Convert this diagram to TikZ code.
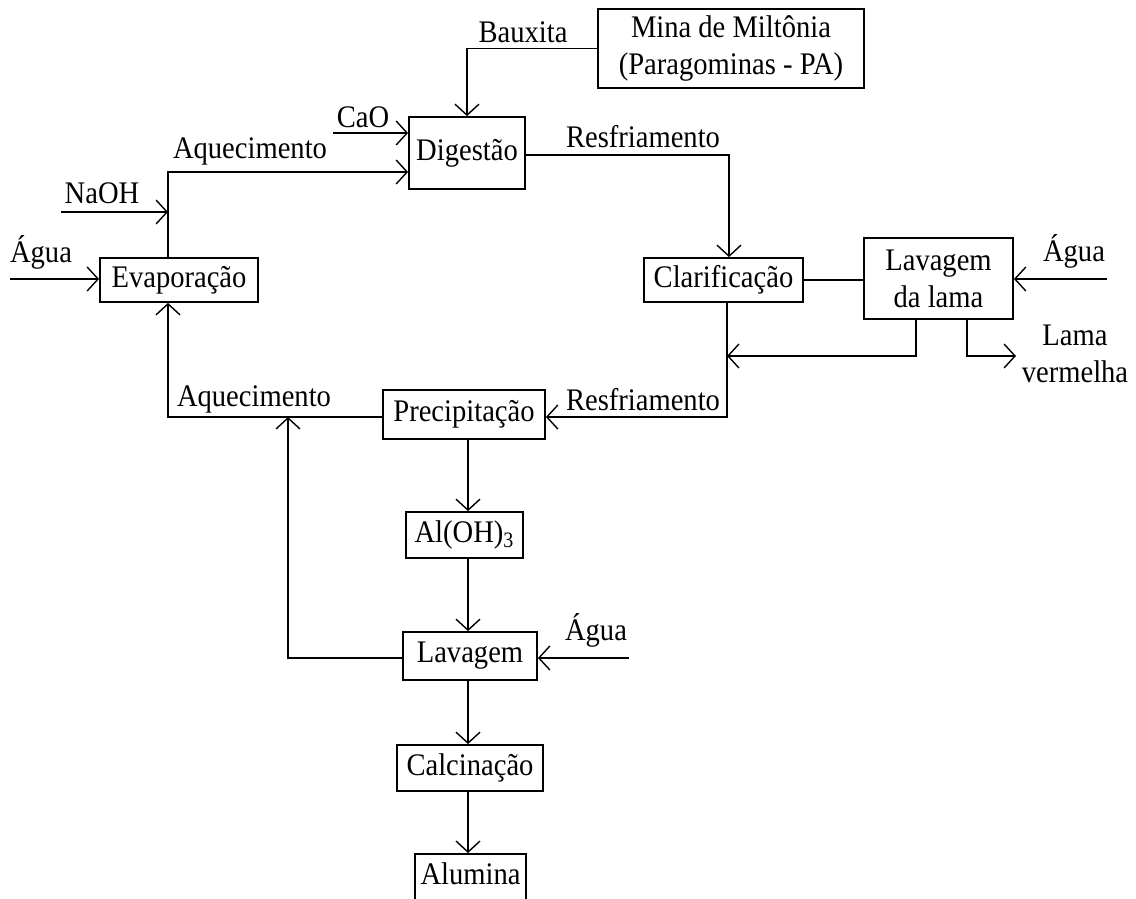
\documentclass[tikz,border=0pt]{standalone}
\usepackage{fontspec}
\setmainfont{Liberation Serif}[FakeStretch=0.91]
\usepackage{tikz}
\usetikzlibrary{arrows.meta}
\usetikzlibrary{calc}

\tikzset{
	etapa/.style={draw, line width=0.9pt, inner sep=0pt, align=center},
	rotulo/.style={inner sep=0pt, align=center},
	linha/.style={line width=0.9pt},
	fluxo/.style={line width=0.9pt, -{Straight Barb[length=5.5pt, width=12pt, line width=0.7pt]}},
}

\begin{document}
\begin{tikzpicture}[x=0.5pt, y=-0.5pt, font=\fontsize{15.7}{18.5}\selectfont]

	\useasboundingbox (0,0) rectangle (1136,899);

	% etapas do processo
	\node[etapa, minimum width=133pt, minimum height=39.5pt] (mina) at (731,48.5) {Mina de Miltônia\\(Paragominas - PA)};
	\node[etapa, minimum width=58pt, minimum height=36pt] (dig) at (467,153) {Digestão};
	\node[etapa, minimum width=79pt, minimum height=22pt] (evap) at (179,280) {Evaporação};
	\node[etapa, minimum width=79.5pt, minimum height=22pt] (clar) at (723.5,280) {Clarificação};
	\node[etapa, minimum width=74.5pt, minimum height=40.5pt] (lavl) at (938.5,278.5) {Lavagem\\da lama};
	\node[etapa, minimum width=81pt, minimum height=24.5pt] (prec) at (464,414.5) {Precipitação};
	\node[etapa, minimum width=58.5pt, minimum height=23pt] (aloh) at (464.5,535) {Al(OH)\textsubscript{3}};
	\node[etapa, minimum width=67pt, minimum height=24pt] (lav) at (470,656) {Lavagem};
	\node[etapa, minimum width=73pt, minimum height=23pt] (calc) at (470,768) {Calcinação};
	\node[etapa, anchor=north, minimum width=55.5pt, inner ysep=4.5pt, text height=11pt, text depth=10pt] (alum) at (470.5,853) {Alumina};

	% pontos de apoio das linhas
	\coordinate (cao) at (333,133);
	\coordinate (aqa) at (168,172);
	\coordinate (naoh) at (61,212);
	\coordinate (agua1) at (10,279);
	\coordinate (resa) at (729,155);
	\coordinate (agua2) at (1107,279);
	\coordinate (ret) at (916,356);
	\coordinate (lama) at (967,356);
	\coordinate (lamaf) at (1016,356);
	\coordinate (resb) at (727,417);
	\coordinate (aqb) at (168,417);
	\coordinate (rec) at (288,658);
	\coordinate (agua3) at (629,658);
	\coordinate (col) at (468,0);

	\draw[fluxo] (mina.west) -| (dig.north);
	\draw[fluxo] (cao) -- (cao -| dig.west);
	\draw[fluxo] (aqa |- evap.north) -- (aqa) -- (aqa -| dig.west);
	\draw[fluxo] (naoh) -- (naoh -| aqa);
	\draw[fluxo] (agua1) -- (agua1 -| evap.west);
	\draw[fluxo] (resa -| dig.east) -- (resa) -- (resa |- clar.north);
	\draw[linha] (clar.east) -- (clar.east -| lavl.west);
	\draw[fluxo] (agua2) -- (agua2 -| lavl.east);
	\draw[fluxo] (ret |- lavl.south) -- (ret) -- (ret -| resb);
	\draw[fluxo] (lama |- lavl.south) -- (lama) -- (lamaf);
	\draw[fluxo] (resb |- clar.south) -- (resb) -- (resb -| prec.east);
	\draw[fluxo] (aqb -| prec.west) -- (aqb) -- (aqb |- evap.south);
	\draw[fluxo] (rec -| lav.west) -- (rec) -- (rec |- aqb);
	\draw[fluxo] (agua3) -- (agua3 -| lav.east);
	\draw[fluxo] (col |- prec.south) -- (col |- aloh.north);
	\draw[fluxo] (col |- aloh.south) -- (col |- lav.north);
	\draw[fluxo] (col |- lav.south) -- (col |- calc.north);
	\draw[fluxo] (col |- calc.south) -- (col |- alum.north);

	% rotulos
	\node[rotulo, anchor=base] (lbaux) at (523,43) {Bauxita};
	\node[rotulo, anchor=base] (lcao) at (363,128) {CaO};
	\node[rotulo, anchor=base] (laqa) at (250,159) {Aquecimento};
	\node[rotulo, anchor=base] (lnaoh) at (102,204) {NaOH};
	\node[rotulo, anchor=base] (lagua1) at (41,263) {Água};
	\node[rotulo, anchor=base] (lresa) at (643,148) {Resfriamento};
	\node[rotulo, anchor=base] (lagua2) at (1074,262) {Água};
	\node[rotulo, anchor=base] (llama) at (1075,345) {Lama};
	\node[rotulo, anchor=base] (lverm) at (1075,382) {vermelha};
	\node[rotulo, anchor=base] (lresb) at (643,410) {Resfriamento};
	\node[rotulo, anchor=base] (laqb) at (254,406) {Aquecimento};
	\node[rotulo, anchor=base] (lagua3) at (596,640) {Água};

\end{tikzpicture}
\end{document}
